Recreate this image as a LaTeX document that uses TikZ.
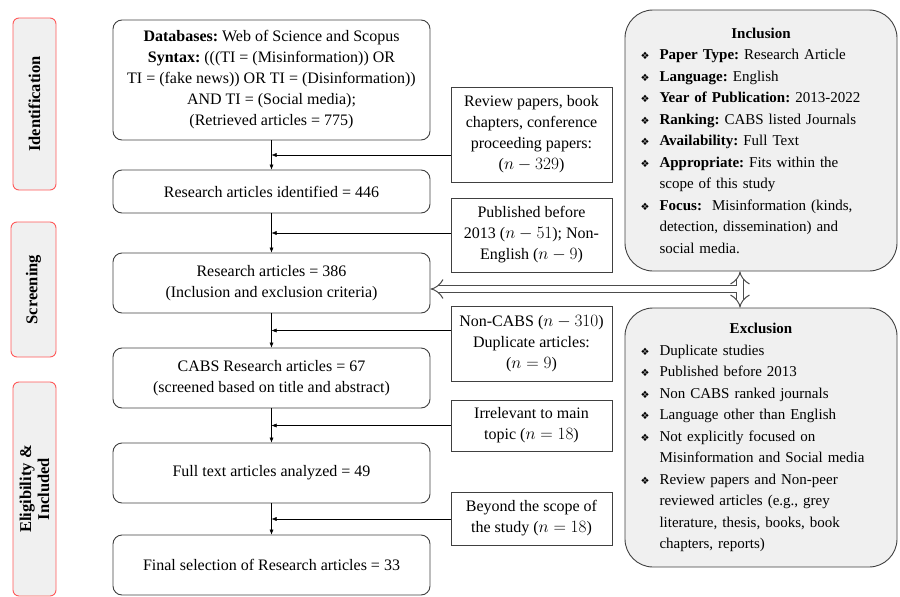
\documentclass[tikz,border=0pt]{standalone}
\usepackage{fontspec}
\setmainfont{Liberation Serif}
\newfontfamily\dingfont{DejaVu Sans}
\usetikzlibrary{arrows.meta,calc,positioning}
\tikzset{>={Latex[length=5pt,width=4pt]}}
\frenchspacing
\tikzstyle{stage}=[
	 draw=red!65, fill=gray!12,
	 rounded corners=6pt, line width=0.9pt,
	 rotate=90, font=\fontsize{16.5}{18}\selectfont\bfseries,
	 align=center, inner sep=0pt
    ]
\tikzstyle{mainbox}=[draw=black!75, rounded corners=9pt, line width=0.9pt, minimum width=317pt, align=center, inner sep=0pt]
\tikzstyle{sidebox}=[draw=black!75, line width=0.9pt, minimum width=161pt, align=center, inner sep=0pt]
\tikzstyle{critbox}=[
	 draw=black!75, fill=gray!12,
	 rounded corners=28pt, line width=0.9pt,
	 minimum width=272pt, text width=241pt,
	 font=\fontsize{15}{21.5}\selectfont,
	 align=left, inner sep=0pt
    ]
\tikzstyle{dbl}=[draw=black!70, double=white, double distance=6pt, line width=1pt]
\newcommand{\critem}[1]{\par\noindent\hangindent=19pt\hangafter=1\makebox[19pt][l]{\dingfont\fontsize{10}{10}\selectfont ❖}#1\par}
\newcommand{\pSide}[2]{\draw[->] (#1.west |- #2) -- (#2)}
\newcommand{\pGap}[3]{\coordinate (#3) at ($(#1.south)!.5!(#2.north)$)}

\begin{document}
\begin{tikzpicture}[x=1pt, y=-1pt, font=\fontsize{16}{21}\selectfont]

\useasboundingbox (0,0) rectangle (900,597);

\node[stage, minimum width=172pt, minimum height=43pt] (idf) at (34.5,104) {Identification};
\node[stage, minimum width=135pt, minimum height=45pt] (scr) at (33.5,289.5) {Screening};
\node[stage, minimum width=214pt, minimum height=43pt] (elg) at (34.5,489) {Eligibility \&\\Included};

\node[mainbox, minimum height=120pt] (db) at (271.5,80) {\textbf{Databases:} Web of Science and Scopus\\
 \textbf{Syntax:} (((TI = (Misinformation)) OR\\
 TI = (fake news)) OR TI = (Disinformation))\\
 AND TI = (Social media);\\
 (Retrieved articles = 775)};
\node[mainbox, minimum height=43pt] (idn) at (271.5,191.5) {Research articles identified = 446};
\node[mainbox, minimum height=60pt] (r386) at (271.5,283) {Research articles = 386\\(Inclusion and exclusion criteria)};
\node[mainbox, minimum height=60pt] (cabs) at (271.5,378) {CABS Research articles = 67\\(screened based on title and abstract)};
\node[mainbox, minimum height=60pt] (full) at (271.5,473) {Full text articles analyzed = 49};
\node[mainbox, minimum height=60pt] (fin) at (271.5,565) {Final selection of Research articles = 33};

\node[sidebox, minimum height=95pt] (rev) at (531.5,134.5) {Review papers, book\\chapters, conference\\proceeding papers:\\($n - 329$)};
\node[sidebox, minimum height=74pt] (pub) at (531.5,235) {Published before\\2013 ($n - 51$); Non-\\English ($n - 9$)};
\node[sidebox, minimum height=75pt] (ncabs) at (531.5,343.5) {Non-CABS ($n - 310$)\\Duplicate articles:\\($n = 9$)};
\node[sidebox, minimum height=51pt] (irr) at (531.5,425.5) {Irrelevant to main\\topic ($n = 18$)};
\node[sidebox, minimum height=53pt] (bey) at (531.5,518.5) {Beyond the scope of\\the study ($n = 18$)};

\node[critbox, minimum height=261pt] (incl) at (761,140.5) {\centerline{\textbf{Inclusion}}
 \critem{\textbf{Paper Type:} Research Article}
 \critem{\textbf{Language:} English}
 \critem{\textbf{Year of Publication:} 2013-2022}
 \critem{\textbf{Ranking:} CABS listed Journals}
 \critem{\textbf{Availability:} Full Text}
 \critem{\textbf{Appropriate:} Fits within the\newline scope of this study}
 \critem{\textbf{Focus:}\ \ Misinformation (kinds,\newline detection, dissemination) and\newline social media.}};
\node[critbox, minimum height=259pt] (excl) at (761,437.5) {\centerline{\textbf{Exclusion}}
 \critem{Duplicate studies}
 \critem{Published before 2013}
 \critem{Non CABS ranked journals}
 \critem{Language other than English}
 \critem{Not explicitly focused on\newline Misinformation and Social media}
 \critem{Review papers and Non-peer\newline reviewed articles (e.g., grey\newline literature, thesis, books, book\newline chapters, reports)}};

\draw[->] (db) -- (idn);
\draw[->] (idn) -- (r386);
\draw[->] (r386) -- (cabs);
\draw[->] (cabs) -- (full);
\draw[->] (full) -- (fin);

\pGap{db}{idn}{g1};
\pGap{idn}{r386}{g2};
\pGap{r386}{cabs}{g3};
\pGap{cabs}{full}{g4};
\pGap{full}{fin}{g5};

\pSide{rev}{g1};
\pSide{pub}{g2};
\pSide{ncabs}{g3};
\pSide{irr}{g4};
\pSide{bey}{g5};

\coordinate (jn) at (740,289);
\draw[dbl, {Implies}-{Implies}] (incl.south -| jn) -- (excl.north -| jn);
\draw[dbl, -{Implies}] ([xshift=-3.5pt]jn) -- (r386.east |- jn);

\end{tikzpicture}
\end{document}
